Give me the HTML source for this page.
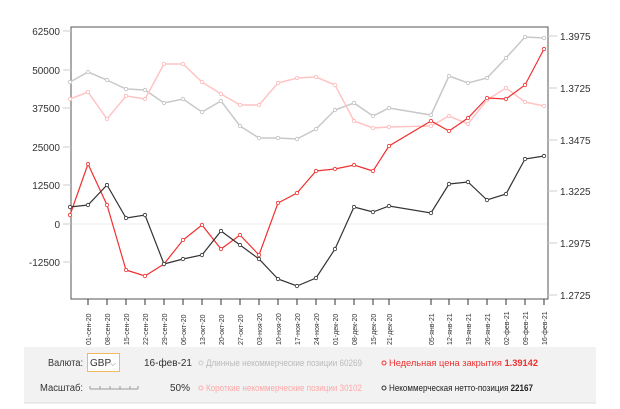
<!DOCTYPE html>
<html><head><meta charset="utf-8"><style>
body{margin:0;background:#fff;width:620px;height:409px;overflow:hidden;font-family:"Liberation Sans",sans-serif}
svg{position:absolute;left:0;top:0}
</style></head><body>
<svg width="620" height="409" viewBox="0 0 620 409" font-family="Liberation Sans, sans-serif">
<rect x="24" y="347" width="572" height="56" fill="#f2f2f2"/>
<line x1="24" y1="403" x2="596" y2="403" stroke="#ddd"/>
<line x1="71" y1="224" x2="548" y2="224" stroke="#eee"/>
<rect x="71" y="27" width="477" height="272" fill="none" stroke="#555" stroke-width="1"/>
<g font-size="10" fill="#333" text-anchor="end">
<text x="60" y="35">62500</text><text x="60" y="74">50000</text><text x="60" y="112">37500</text>
<text x="60" y="151">25000</text><text x="60" y="189">12500</text><text x="60" y="228">0</text><text x="60" y="266">-12500</text>
</g>
<g stroke="#ccc"><line x1="63" y1="31" x2="71" y2="31"/><line x1="63" y1="70" x2="71" y2="70"/><line x1="63" y1="108" x2="71" y2="108"/><line x1="63" y1="147" x2="71" y2="147"/><line x1="63" y1="185" x2="71" y2="185"/><line x1="63" y1="224" x2="71" y2="224"/><line x1="63" y1="262" x2="71" y2="262"/>
<line x1="548" y1="36" x2="557" y2="36"/><line x1="548" y1="88" x2="557" y2="88"/><line x1="548" y1="140" x2="557" y2="140"/><line x1="548" y1="191" x2="557" y2="191"/><line x1="548" y1="243" x2="557" y2="243"/><line x1="548" y1="295" x2="557" y2="295"/></g>
<g font-size="10" fill="#333">
<text x="560" y="40">1.3975</text><text x="560" y="92">1.3725</text><text x="560" y="144">1.3475</text><text x="560" y="195">1.3225</text><text x="560" y="247">1.2975</text><text x="560" y="299">1.2725</text>
</g>
<g id="ticks" stroke="#333"></g>
<g id="xl" font-size="7" fill="#333"></g>
<polyline id="g" fill="none" stroke="#c8c8c8" stroke-width="1.5"/>
<polyline id="p" fill="none" stroke="#ffc4c4" stroke-width="1.5"/>
<polyline id="r" fill="none" stroke="#f03030" stroke-width="1.2"/>
<polyline id="k" fill="none" stroke="#333" stroke-width="1.2"/>
<g id="dots"></g>
<g font-size="10">
<text x="48" y="366" fill="#333" textLength="35" lengthAdjust="spacingAndGlyphs">Валюта:</text>
<rect x="87.5" y="353.5" width="32" height="18" fill="#fff" stroke="#f0b860"/>
<text x="90" y="366" fill="#333">GBP</text><text x="110" y="366" fill="#888" font-size="8">⌵</text>
<text x="144" y="366" fill="#333" textLength="48" lengthAdjust="spacingAndGlyphs">16-фев-21</text>
<circle cx="201" cy="363" r="2" fill="none" stroke="#ccc"/>
<text x="206" y="366" fill="#bbb" font-size="9" textLength="156" lengthAdjust="spacingAndGlyphs">Длинные некоммерческие позиции  60269</text>
<circle cx="384" cy="363" r="2" fill="none" stroke="#f03030"/>
<text x="389" y="366" fill="#f03030" font-size="9" textLength="149" lengthAdjust="spacingAndGlyphs">Недельная цена закрытия  <tspan font-weight="bold">1.39142</tspan></text>
<text x="40" y="391" fill="#333" textLength="43" lengthAdjust="spacingAndGlyphs">Масштаб:</text>
<line x1="90" y1="389" x2="138" y2="389" stroke="#999"/>
<g stroke="#999"><line x1="90" y1="386" x2="90" y2="389"/><line x1="100" y1="386" x2="100" y2="389"/><line x1="110" y1="386" x2="110" y2="389"/><line x1="120" y1="386" x2="120" y2="389"/><line x1="130" y1="386" x2="130" y2="389"/><line x1="138" y1="386" x2="138" y2="389"/></g>
<text x="170" y="391" fill="#333">50%</text>
<circle cx="201" cy="388" r="2" fill="none" stroke="#ffb0b0"/>
<text x="206" y="391" fill="#ffa8a8" font-size="9" textLength="156" lengthAdjust="spacingAndGlyphs">Короткие некоммерческие позиции  30102</text>
<circle cx="384" cy="388" r="2" fill="none" stroke="#333"/>
<text x="389" y="391" fill="#222" font-size="9" textLength="144" lengthAdjust="spacingAndGlyphs">Некоммерческая нетто-позиция  <tspan font-weight="bold">22167</tspan></text>
</g>
</svg>
<script>
const X=[70,88,107,126,145,164,183,202,221,240,259,278,297,316,335,354,373,389,431,449,468,487,506,525,544];
const D={g:[82,72,80,89,90,103,99,112,101,126,138,138,139,129,110,103,116,108,115,76,83,78,58,37,38],
p:[99,92,119,96,99,64,64,82,94,105,105,83,78,77,85,121,128,127,126,116,124,100,88,102,106],
r:[215,164,205,270,276,264,240,225,249,235,255,203,193,171,169,165,171,146,121,131,118,98,99,85,49],
k:[207,205,185,218,215,264,259,255,231,245,259,279,286,278,249,207,212,206,213,184,182,200,194,159,156]};
const C={g:"#c0c0c0",p:"#ffb8b8",r:"#f03030",k:"#333"};
const ns="http://www.w3.org/2000/svg";let dots=document.getElementById("dots");
for(const k in D){document.getElementById(k).setAttribute("points",X.map((x,i)=>x+","+D[k][i]).join(" "));
X.forEach((x,i)=>{let c=document.createElementNS(ns,"circle");c.setAttribute("cx",x);c.setAttribute("cy",D[k][i]);c.setAttribute("r",1.7);c.setAttribute("fill","#fff");c.setAttribute("stroke",C[k]);c.setAttribute("stroke-width",0.8);dots.appendChild(c);});}
const L=["01-сен-20","08-сен-20","15-сен-20","22-сен-20","29-сен-20","06-окт-20","13-окт-20","20-окт-20","27-окт-20","03-ноя-20","10-ноя-20","17-ноя-20","24-ноя-20","01-дек-20","08-дек-20","15-дек-20","21-дек-20","05-янв-21","12-янв-21","19-янв-21","26-янв-21","02-фев-21","09-фев-21","16-фев-21"];
const TX=X.slice(1);let tk=document.getElementById("ticks"),xl=document.getElementById("xl");
TX.forEach((x,i)=>{let l=document.createElementNS(ns,"line");l.setAttribute("x1",x);l.setAttribute("x2",x);l.setAttribute("y1",299);l.setAttribute("y2",305);tk.appendChild(l);
let t=document.createElementNS(ns,"text");t.setAttribute("transform",`translate(${x+3},345) rotate(-90)`);t.textContent=L[i];xl.appendChild(t);});
</script>
</body></html>
